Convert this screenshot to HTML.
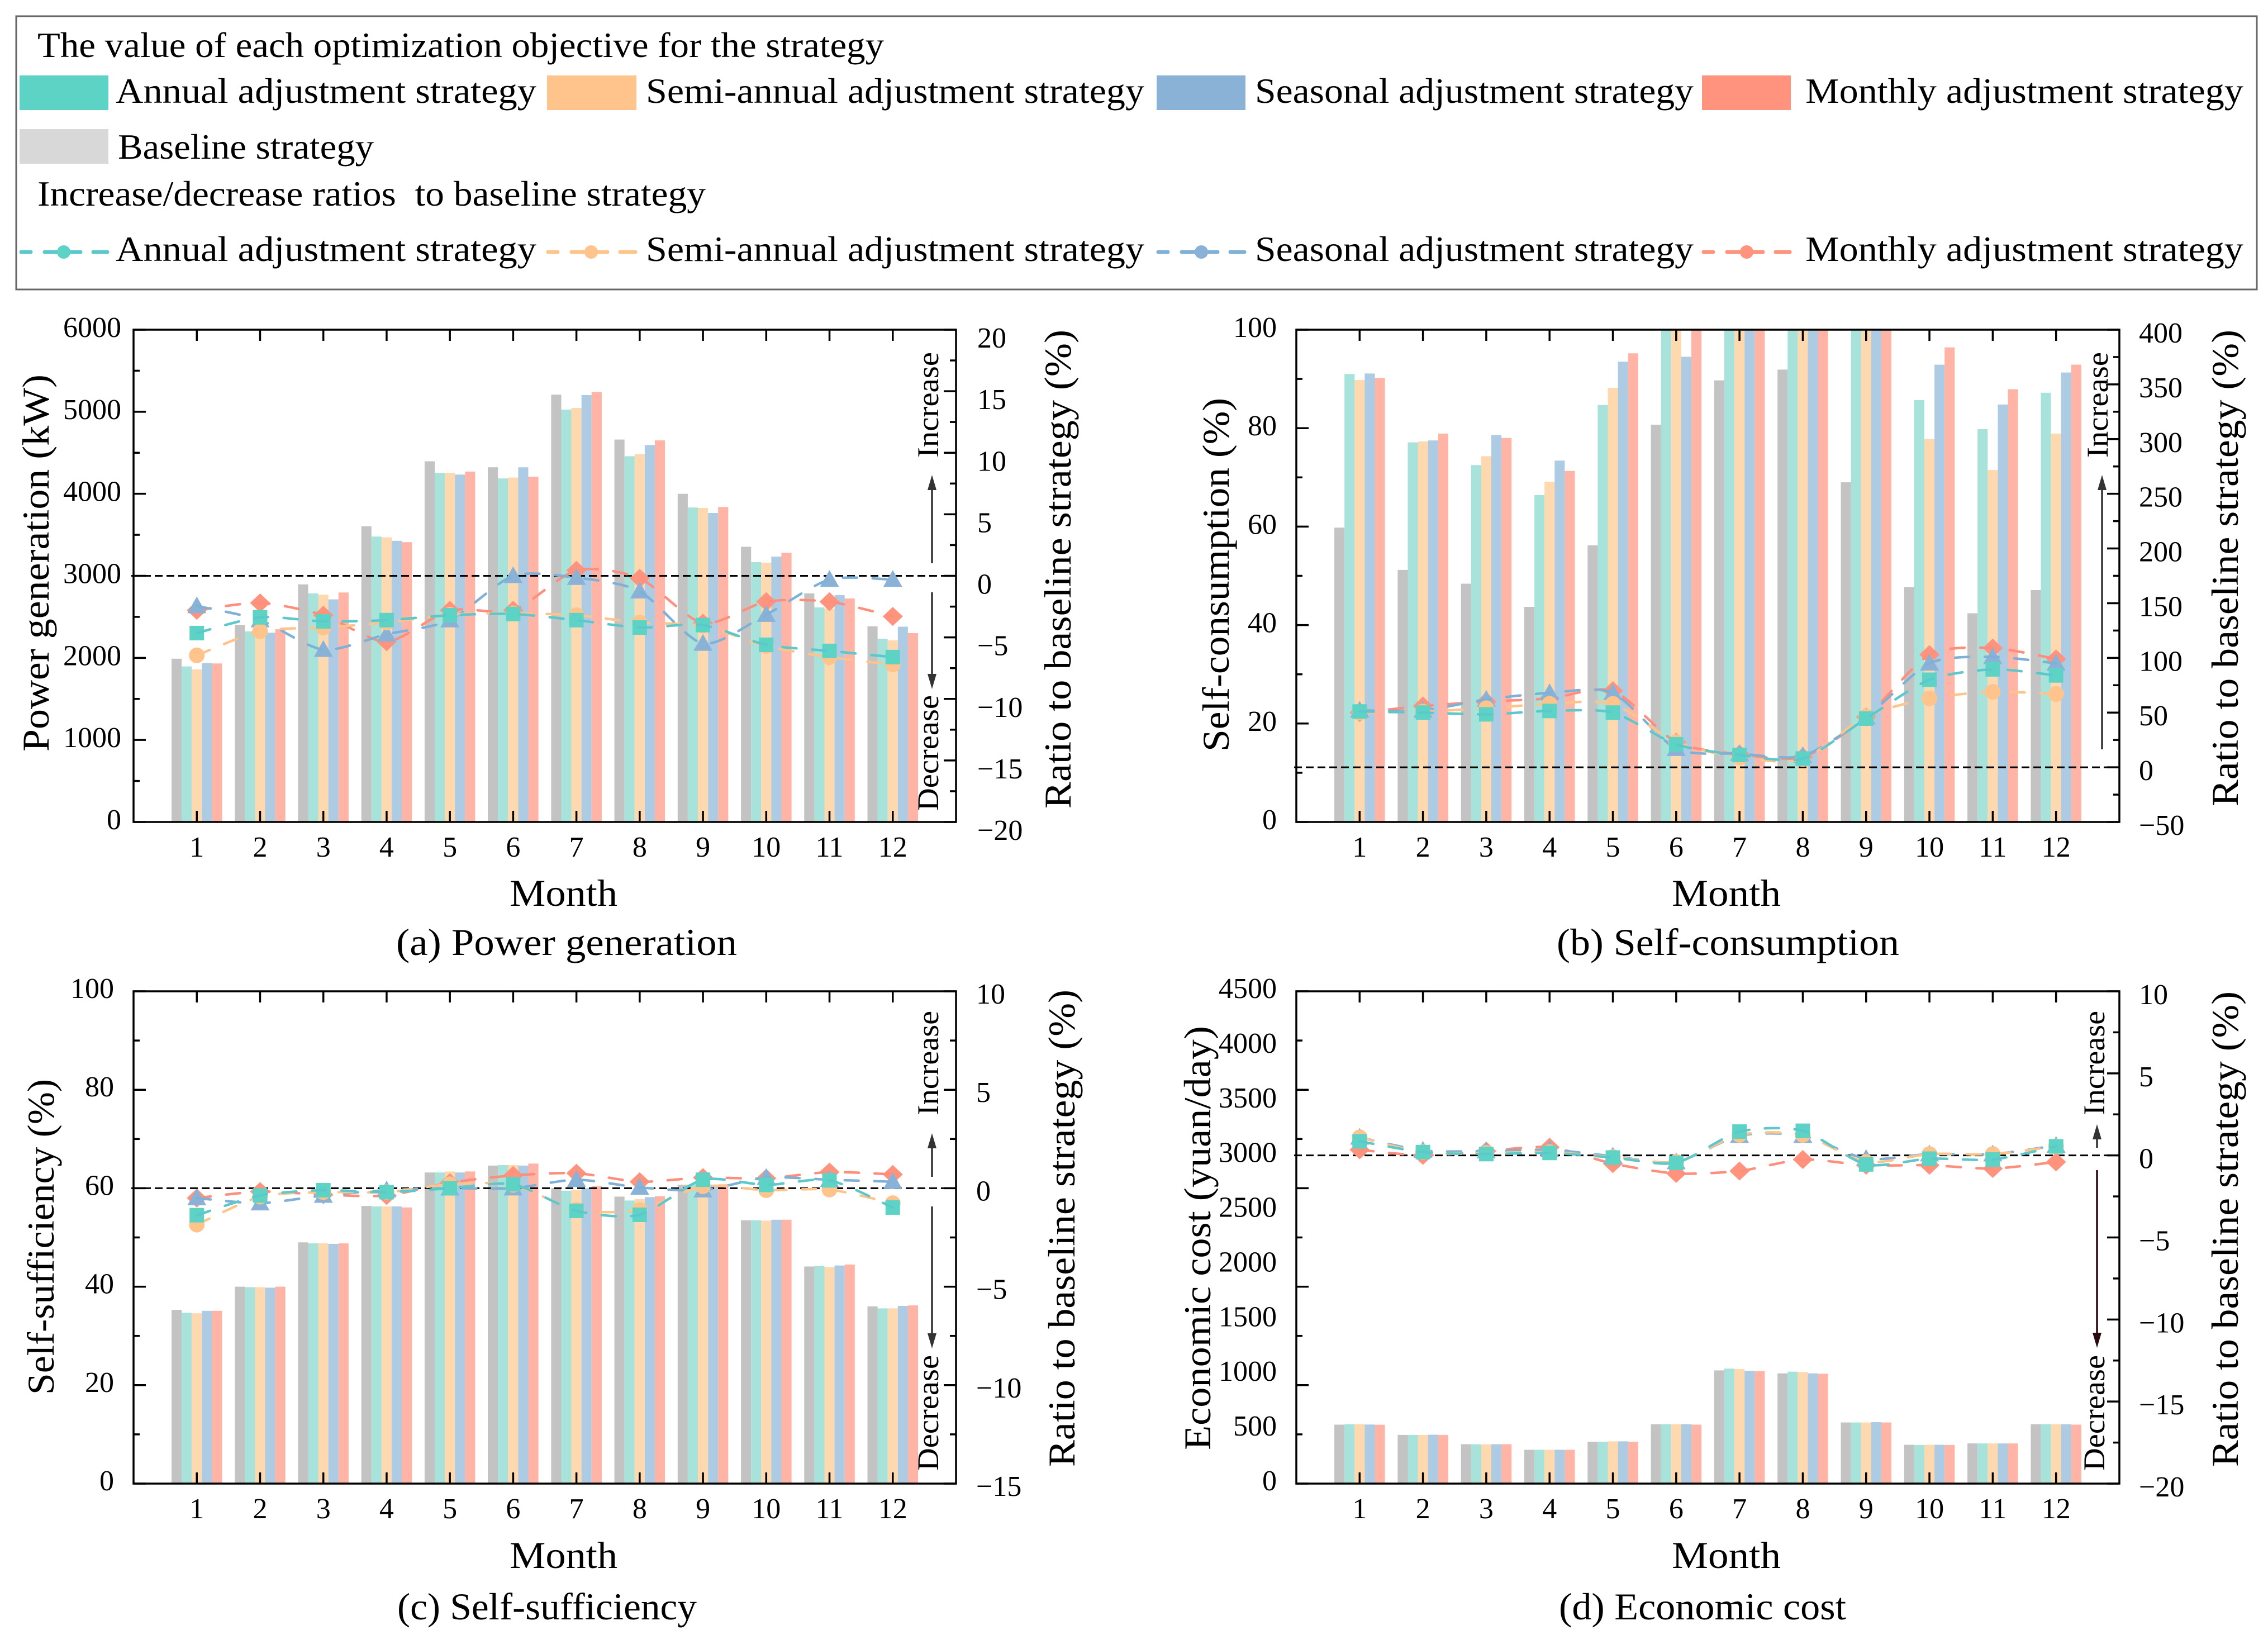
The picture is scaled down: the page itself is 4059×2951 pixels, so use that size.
<!DOCTYPE html>
<html lang="en">
<head>
<meta charset="utf-8">
<title>Optimization objectives by strategy</title>
<style>
html,body{margin:0;padding:0;background:#fff;}
svg{display:block;}
text{font-family:"Liberation Serif",serif;fill:#000;}
</style>
</head>
<body>
<svg id="chart" xmlns="http://www.w3.org/2000/svg" width="4059" height="2951" viewBox="0 0 4059 2951">
  <rect x="0" y="0" width="4059" height="2951" fill="#fff"/>
  <g>
    <rect x="29" y="29" width="4010" height="489" fill="#fff" stroke="#666" stroke-width="3"/>
    <text x="67" y="102" font-size="63" textLength="1515" lengthAdjust="spacingAndGlyphs">The value of each optimization objective for the strategy</text>
    <rect x="35" y="135" width="159" height="62" fill="#5dd3c5"/>
    <text x="207" y="184" font-size="63" textLength="753" lengthAdjust="spacingAndGlyphs">Annual adjustment strategy</text>
    <rect x="979" y="135" width="160" height="62" fill="#fec48b"/>
    <text x="1156" y="184" font-size="63" textLength="892" lengthAdjust="spacingAndGlyphs">Semi-annual adjustment strategy</text>
    <rect x="2070" y="135" width="159" height="62" fill="#8ab2d6"/>
    <text x="2246" y="184" font-size="63" textLength="785" lengthAdjust="spacingAndGlyphs">Seasonal adjustment strategy</text>
    <rect x="3046" y="135" width="159" height="62" fill="#ff937e"/>
    <text x="3231" y="184" font-size="63" textLength="784" lengthAdjust="spacingAndGlyphs">Monthly adjustment strategy</text>
    <rect x="35" y="231" width="159" height="62" fill="#d8d8d8"/>
    <text x="211" y="284" font-size="63" textLength="458" lengthAdjust="spacingAndGlyphs">Baseline strategy</text>
    <text x="67" y="368" font-size="63" textLength="1196" lengthAdjust="spacingAndGlyphs" xml:space="preserve">Increase/decrease ratios  to baseline strategy</text>

    <g stroke="#5dc8cc" stroke-width="7" stroke-linecap="round">
      <line x1="38" y1="451" x2="55" y2="451"/><line x1="80" y1="451" x2="144" y2="451"/><line x1="167" y1="451" x2="192" y2="451"/>
      <circle cx="114" cy="451" r="12" fill="#5dd3c5" stroke="none"/>
    </g>
    <text x="207" y="467" font-size="63" textLength="753" lengthAdjust="spacingAndGlyphs">Annual adjustment strategy</text>
    <g stroke="#fec48b" stroke-width="7" stroke-linecap="round">
      <line x1="981" y1="451" x2="998" y2="451"/><line x1="1023" y1="451" x2="1087" y2="451"/><line x1="1110" y1="451" x2="1137" y2="451"/>
      <circle cx="1058" cy="451" r="12" fill="#fec48b" stroke="none"/>
    </g>
    <text x="1156" y="467" font-size="63" textLength="892" lengthAdjust="spacingAndGlyphs">Semi-annual adjustment strategy</text>
    <g stroke="#7fb0d6" stroke-width="7" stroke-linecap="round">
      <line x1="2073" y1="451" x2="2090" y2="451"/><line x1="2115" y1="451" x2="2179" y2="451"/><line x1="2202" y1="451" x2="2227" y2="451"/>
      <circle cx="2150" cy="451" r="12" fill="#8ab2d6" stroke="none"/>
    </g>
    <text x="2246" y="467" font-size="63" textLength="785" lengthAdjust="spacingAndGlyphs">Seasonal adjustment strategy</text>
    <g stroke="#ff937e" stroke-width="7" stroke-linecap="round">
      <line x1="3049" y1="451" x2="3066" y2="451"/><line x1="3091" y1="451" x2="3155" y2="451"/><line x1="3178" y1="451" x2="3203" y2="451"/>
      <circle cx="3126" cy="451" r="12" fill="#ff937e" stroke="none"/>
    </g>
    <text x="3231" y="467" font-size="63" textLength="784" lengthAdjust="spacingAndGlyphs">Monthly adjustment strategy</text>
  </g>
  <g id="panels"></g>
</svg>
<script>
const months = [1,2,3,4,5,6,7,8,9,10,11,12];

const powerBaseline = [1990,2400,2896,3604,4396,4323,5208,4661,4000,3354,2786,2385];
const powerAnnual   = [1896,2323,2786,3479,4255,4187,5026,4458,3833,3167,2615,2234];
const powerSemi     = [1860,2330,2770,3469,4255,4198,5047,4484,3828,3161,2600,2214];
const powerSeasonal = [1937,2307,2713,3427,4234,4323,5203,4594,3766,3234,2766,2380];
const powerMonthly  = [1932,2349,2797,3411,4271,4208,5240,4651,3839,3281,2724,2302];
const powerRatioAnnual   = [-4.65,-3.37,-3.7,-3.6,-3.2,-3.1,-3.6,-4.2,-4.0,-5.6,-6.1,-6.6];
const powerRatioSemi     = [-6.46,-4.5,-4.2,-3.8,-3.15,-3.05,-3.2,-3.8,-4.05,-5.7,-6.6,-7.2];
const powerRatioSeasonal = [-2.45,-3.6,-6.0,-4.75,-3.6,0,-0.15,-1.25,-5.5,-3.15,-0.3,-0.3];
const powerRatioMonthly  = [-2.8,-2.2,-3.2,-5.35,-2.8,-2.8,0.45,-0.2,-3.85,-2.1,-2.1,-3.3];

const consumptionBaseline = [59.8,51.2,48.4,43.7,56.2,80.7,89.7,91.9,69,47.7,42.4,47.1];
const consumptionAnnual   = [91,77.1,72.5,66.4,84.7,100,100,100,100,85.7,79.8,87.2];
const consumptionSemi     = [89.8,77.3,74.3,69.1,88.2,100,100,100,99.8,77.8,71.5,78.9];
const consumptionSeasonal = [91.1,77.5,78.6,73.4,93.5,94.5,100,100,100,92.9,84.8,91.3];
const consumptionMonthly  = [90.2,78.9,78,71.3,95.2,100,100,100,100,96.4,87.9,92.9];
const consumptionRatioAnnual   = [51,50,48.4,51.5,50,21,11.3,8,44.5,80,89.5,84];
const consumptionRatioSemi     = [50,51,54,58,58,23,9,7.4,46.5,63,69,67];
const consumptionRatioSeasonal = [52,52,62,68,68,17,12.5,10.5,45.7,95,101,95];
const consumptionRatioMonthly  = [50,56,60,63,70,23,12,9.4,46,103,109,99];

const sufficiencyBaseline = [35.3,40,49,56.4,63.2,64.6,60,58.3,60.7,53.5,44.1,36];
const sufficiencyAnnual   = [34.7,39.9,48.8,56.3,63.2,64.7,59.5,57.5,60.8,53.5,44.2,35.6];
const sufficiencySemi     = [34.6,39.9,48.8,56.3,63.4,64.7,59.6,57.8,60.7,53.4,44,35.6];
const sufficiencySeasonal = [35.1,39.8,48.7,56.3,63.2,64.6,60,58.2,60.7,53.6,44.3,36.1];
const sufficiencyMonthly  = [35.1,40,48.8,56.1,63.4,65,60.4,58.4,60.8,53.6,44.5,36.2];
const sufficiencyRatioAnnual   = [-1.37,-0.37,-0.1,-0.2,0,0.2,-1.15,-1.35,0.43,0.17,0.4,-0.98];
const sufficiencyRatioSemi     = [-1.85,-0.43,-0.2,-0.2,0.2,0.17,-1.1,-1.1,0.1,-0.1,-0.07,-0.76];
const sufficiencyRatioSeasonal = [-0.5,-0.76,-0.37,-0.1,0,0,0.43,0.04,-0.1,0.54,0.43,0.33];
const sufficiencyRatioMonthly  = [-0.5,-0.17,-0.33,-0.37,0.28,0.65,0.76,0.33,0.54,0.5,0.82,0.7];

const costBaseline = [539,445,360,309,383,543,1035,1008,559,355,367,543];
const costAnnual   = [543,445,359,309,383,543,1051,1023,559,353,367,543];
const costSemi     = [543,445,359,309,386,543,1047,1020,559,355,367,543];
const costSeasonal = [540,447,360,309,386,543,1031,1008,562,355,367,543];
const costMonthly  = [538,445,360,309,383,539,1027,1004,559,353,367,539];
const costRatioAnnual   = [0.86,0.2,0.08,0.15,-0.13,-0.45,1.45,1.5,-0.55,-0.2,-0.25,0.55];
const costRatioSemi     = [1.1,0.2,0.15,0.2,-0.1,-0.4,1.25,1.25,-0.4,0.08,0.08,0.55];
const costRatioSeasonal = [1.1,0.3,0.26,0.34,-0.05,-0.4,1.2,1.2,-0.2,0.08,0.08,0.6];
const costRatioMonthly  = [0.34,0,0.26,0.5,-0.5,-1.1,-0.95,-0.25,-0.6,-0.6,-0.8,-0.4];

const powerLeftLabels = [0,1000,2000,3000,4000,5000,6000];
const percentLeftLabels = [0,20,40,60,80,100];
const costLeftLabels = [0,500,1000,1500,2000,2500,3000,3500,4000,4500];
const powerRightLabels = [-20,-15,-10,-5,0,5,10,15,20];
const consumptionRightLabels = [-50,0,50,100,150,200,250,300,350,400];
const sufficiencyRightLabels = [-15,-10,-5,0,5,10];
const costRightLabels = [-20,-15,-10,-5,0,5,10];

const NS = 'http://www.w3.org/2000/svg';
const root = document.getElementById('panels');
const barColors = ['#c3c3c3','#a7e3da','#fed8ae','#aecbe4','#ffb4a5'];
const lineColors = {annual:'#5dc8cc', semi:'#fec48b', seasonal:'#7fb0d6', monthly:'#ff8f7c'};
const markColors = {annual:'#5dd3c5', semi:'#fec48b', seasonal:'#8ab2d6', monthly:'#ff937e'};
const barKeys = ['baseline','annual','semi-annual','seasonal','monthly'];

const panels = [
 {id:'a', left:239, right:1711, top:590, bottom:1471, yMax:6000, rMin:-20, rMax:20,
  bars:[powerBaseline,powerAnnual,powerSemi,powerSeasonal,powerMonthly],
  ratios:{annual:powerRatioAnnual, semi:powerRatioSemi, seasonal:powerRatioSeasonal, monthly:powerRatioMonthly},
  leftLabels:powerLeftLabels, rightLabels:powerRightLabels, leftMinor:500, rightMinor:2.5,
  leftLabelX:217, rightLabelX:1749, leftShift:-4, rightShift:15},
 {id:'b', left:2320, right:3793, top:590, bottom:1471, yMax:100, rMin:-50, rMax:400,
  bars:[consumptionBaseline,consumptionAnnual,consumptionSemi,consumptionSeasonal,consumptionMonthly],
  ratios:{annual:consumptionRatioAnnual, semi:consumptionRatioSemi, seasonal:consumptionRatioSeasonal, monthly:consumptionRatioMonthly},
  leftLabels:percentLeftLabels, rightLabels:consumptionRightLabels, leftMinor:10, rightMinor:25,
  leftLabelX:2285, rightLabelX:3828, leftShift:-4, rightShift:6},
 {id:'c', left:239, right:1711, top:1774, bottom:2655, yMax:100, rMin:-15, rMax:10,
  bars:[sufficiencyBaseline,sufficiencyAnnual,sufficiencySemi,sufficiencySeasonal,sufficiencyMonthly],
  ratios:{annual:sufficiencyRatioAnnual, semi:sufficiencyRatioSemi, seasonal:sufficiencyRatioSeasonal, monthly:sufficiencyRatioMonthly},
  leftLabels:percentLeftLabels, rightLabels:sufficiencyRightLabels, leftMinor:10, rightMinor:2.5,
  leftLabelX:204, rightLabelX:1747, leftShift:-5, rightShift:5},
 {id:'d', left:2320, right:3793, top:1774, bottom:2655, yMax:4500, rMin:-20, rMax:10,
  bars:[costBaseline,costAnnual,costSemi,costSeasonal,costMonthly],
  ratios:{annual:costRatioAnnual, semi:costRatioSemi, seasonal:costRatioSeasonal, monthly:costRatioMonthly},
  leftLabels:costLeftLabels, rightLabels:costRightLabels, leftMinor:450, rightMinor:2.5,
  leftLabelX:2285, rightLabelX:3828, leftShift:-5, rightShift:6}
];

function mk(parent, tag, attrs){
  const n = document.createElementNS(NS, tag);
  for (const k in attrs) n.setAttribute(k, attrs[k]);
  parent.appendChild(n);
  return n;
}
function smoothPath(pts){
  let d = 'M' + pts[0][0].toFixed(1) + ' ' + pts[0][1].toFixed(1);
  for (let i = 0; i < pts.length - 1; i++){
    const p0 = pts[Math.max(i-1,0)], p1 = pts[i], p2 = pts[i+1], p3 = pts[Math.min(i+2,pts.length-1)];
    const c1x = p1[0] + (p2[0]-p0[0])/8, c1y = p1[1] + (p2[1]-p0[1])/8;
    const c2x = p2[0] - (p3[0]-p1[0])/8, c2y = p2[1] - (p3[1]-p1[1])/8;
    d += 'C' + c1x.toFixed(1) + ' ' + c1y.toFixed(1) + ' ' + c2x.toFixed(1) + ' ' + c2y.toFixed(1) + ' ' + p2[0].toFixed(1) + ' ' + p2[1].toFixed(1);
  }
  return d;
}
function fmt(v){ return v < 0 ? '\u2212' + Math.abs(v) : String(v); }

panels.forEach(function(p){
  const g = mk(root, 'g', {});
  
  
  const step = (p.right - p.left) / 13;
  const xOf = function(m){ return p.left + m * step; };
  const yL = function(v){ return p.bottom - v / p.yMax * (p.bottom - p.top); };
  const yR = function(v){ return p.bottom - (v - p.rMin) / (p.rMax - p.rMin) * (p.bottom - p.top); };
  const barW = 18.1;

  p.bars.forEach(function(series, s){
    series.forEach(function(v, i){
      const r = mk(g, 'rect', {x:(xOf(months[i]) - 2.5*barW + s*barW).toFixed(1), y:yL(v).toFixed(1), width:barW, height:(p.bottom - yL(v)).toFixed(1), fill:barColors[s]});
      
      
    });
  });

  const zero = mk(g, 'line', {x1:p.left - 4, x2:p.right, y1:yR(0), y2:yR(0), stroke:'#000', 'stroke-width':3, 'stroke-dasharray':'14 7'});
  
  

  ['monthly','seasonal','semi','annual'].forEach(function(key){
    const vals = p.ratios[key];
    const pts = vals.map(function(v, i){ return [xOf(months[i]), yR(v)]; });
    pts.forEach(function(pt, i){
      const cx = pt[0], cy = pt[1];
      let m;
      if (key === 'annual') m = mk(g, 'rect', {x:cx-13, y:cy-13, width:26, height:26, fill:markColors[key]});
      else if (key === 'semi') m = mk(g, 'circle', {cx:cx, cy:cy, r:14, fill:markColors[key]});
      else if (key === 'seasonal') m = mk(g, 'polygon', {points:(cx)+','+(cy-17)+' '+(cx+17)+','+(cy+13)+' '+(cx-17)+','+(cy+13), fill:markColors[key]});
      else m = mk(g, 'polygon', {points:(cx)+','+(cy-17)+' '+(cx+18)+','+(cy)+' '+(cx)+','+(cy+17)+' '+(cx-18)+','+(cy), fill:markColors[key]});
      
      
    });
    const line = mk(g, 'path', {d:smoothPath(pts), fill:'none', stroke:lineColors[key], 'stroke-width':4.5, 'stroke-dasharray':'25 28', 'stroke-linecap':'round'});
    
    
  });

  const frame = mk(g, 'rect', {x:p.left, y:p.top, width:p.right - p.left, height:p.bottom - p.top, fill:'none', stroke:'#000', 'stroke-width':3.5});
  
  

  months.forEach(function(m){
    const x = xOf(m);
    const t1 = mk(g, 'line', {x1:x, x2:x, y1:p.bottom, y2:p.bottom - 20, stroke:'#000', 'stroke-width':3.5});
    
    
    const t2 = mk(g, 'line', {x1:x, x2:x, y1:p.top, y2:p.top + 20, stroke:'#000', 'stroke-width':3.5});
    
    
    const lab = mk(g, 'text', {x:x, y:p.bottom + 62, 'font-size':52, 'text-anchor':'middle'});
    lab.textContent = m;
    
    
  });

  let idx = 0;
  for (let v = 0; v <= p.yMax + 1e-6; v += p.leftMinor, idx++){
    const len = idx % 2 === 0 ? 22 : 11;
    const t = mk(g, 'line', {x1:p.left, x2:p.left + len, y1:yL(v), y2:yL(v), stroke:'#000', 'stroke-width':3.5});
    
    
  }
  idx = 0;
  for (let v = p.rMin; v <= p.rMax + 1e-6; v += p.rightMinor, idx++){
    const len = idx % 2 === 0 ? 22 : 11;
    const t = mk(g, 'line', {x1:p.right, x2:p.right - len, y1:yR(v), y2:yR(v), stroke:'#000', 'stroke-width':3.5});
    
    
  }
  const gridFrac = function(i, arr){ return p.bottom - i / (arr.length - 1) * (p.bottom - p.top); };
  p.leftLabels.forEach(function(v, i){
    const lab = mk(g, 'text', {x:p.leftLabelX, y:(gridFrac(i, p.leftLabels) + p.leftShift + 17).toFixed(1), 'font-size':52, 'text-anchor':'end'});
    lab.textContent = fmt(v);
    
    
  });
  p.rightLabels.forEach(function(v){
    const lab = mk(g, 'text', {x:p.rightLabelX, y:(yR(v) + p.rightShift + 17).toFixed(1), 'font-size':52, 'text-anchor':'start'});
    lab.textContent = fmt(v);
    
    
  });
});

function vText(str, x, yStart, len, size, name){
  const t = mk(root, 'text', {transform:'translate(' + x + ',' + yStart + ') rotate(-90)', 'font-size':size, textLength:len, lengthAdjust:'spacingAndGlyphs'});
  t.textContent = str;
  
  
}
function hText(str, x, y, len, size, name){
  const t = mk(root, 'text', {x:x, y:y, 'font-size':size, textLength:len, lengthAdjust:'spacingAndGlyphs'});
  t.textContent = str;
  
  
}
function arrow(x, y1, y2, color, name){
  const dir = y2 < y1 ? 1 : -1;
  const s = mk(root, 'line', {x1:x, x2:x, y1:y1, y2:y2 + dir*20, stroke:color, 'stroke-width':3.5});
  
  
  const h = mk(root, 'polygon', {points:x + ',' + y2 + ' ' + (x+8) + ',' + (y2 + dir*27) + ' ' + (x-8) + ',' + (y2 + dir*27), fill:color});
  
  
}

vText('Power generation (kW)', 87, 1345, 675, 68, 'y-axis-title-power');
vText('Self-consumption (%)', 2199, 1345, 633, 68, 'y-axis-title-self-consumption');
vText('Self-sufficiency (%)', 96, 2496, 565, 68, 'y-axis-title-self-sufficiency');
vText('Economic cost (yuan/day)', 2166, 2595, 759, 68, 'y-axis-title-economic-cost');
vText('Ratio to baseline strategy (%)', 1916, 1447, 857, 68, 'right-axis-title-a');
vText('Ratio to baseline strategy (%)', 4005, 1443, 853, 68, 'right-axis-title-b');
vText('Ratio to baseline strategy (%)', 1923, 2625, 854, 68, 'right-axis-title-c');
vText('Ratio to baseline strategy (%)', 4005, 2625, 851, 68, 'right-axis-title-d');

vText('Increase', 1679, 819, 189, 54, 'increase-label-a');
vText('Decrease', 1679, 1451, 207, 54, 'decrease-label-a');
vText('Increase', 3772, 819, 189, 54, 'increase-label-b');
vText('Increase', 1679, 1996, 187, 54, 'increase-label-c');
vText('Decrease', 1679, 2632, 207, 54, 'decrease-label-c');
vText('Increase', 3766, 1996, 187, 54, 'increase-label-d');
vText('Decrease', 3766, 2632, 207, 54, 'decrease-label-d');

arrow(1668, 1008, 850, '#333', 'increase-arrow-a');
arrow(1668, 1060, 1233, '#333', 'decrease-arrow-a');
arrow(3762, 1341, 850, '#333', 'increase-arrow-b');
arrow(1668, 2106, 2028, '#333', 'increase-arrow-c');
arrow(1668, 2159, 2413, '#333', 'decrease-arrow-c');
arrow(3753, 2054, 2012, '#333', 'increase-arrow-d');
arrow(3753, 2094, 2412, '#2a0a10', 'decrease-arrow-d');

hText('Month', 912, 1621, 193, 68, 'x-axis-title-a');
hText('Month', 2992, 1621, 195, 68, 'x-axis-title-b');
hText('Month', 912, 2806, 193, 68, 'x-axis-title-c');
hText('Month', 2992, 2806, 195, 68, 'x-axis-title-d');

hText('(a) Power generation', 709, 1709, 610, 68, 'caption-a');
hText('(b) Self-consumption', 2786, 1709, 613, 68, 'caption-b');
hText('(c) Self-sufficiency', 711, 2898, 536, 68, 'caption-c');
hText('(d) Economic cost', 2790, 2898, 514, 68, 'caption-d');
</script>
</body>
</html>
